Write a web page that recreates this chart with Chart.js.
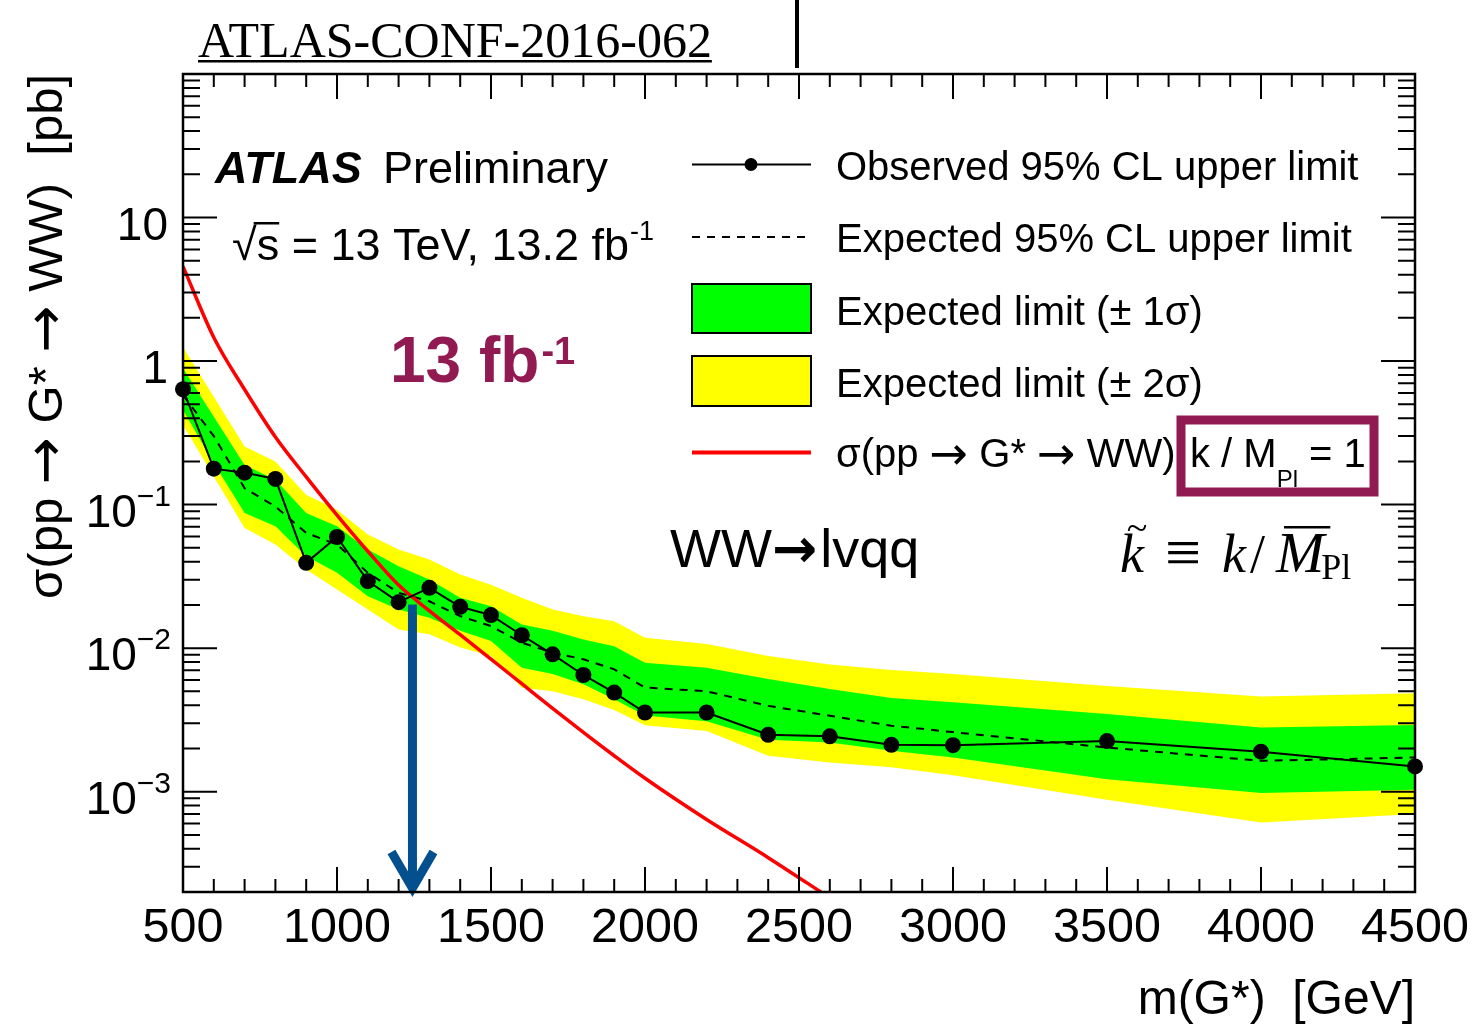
<!DOCTYPE html>
<html>
<head>
<meta charset="utf-8">
<script src="https://cdn.jsdelivr.net/npm/chart.js@4.4.1/dist/chart.umd.min.js"></script>
<style>
  html, body { margin: 0; padding: 0; background: #fff; }
  #wrap { width: 1475px; height: 1025px; }
</style>
</head>
<body>
<div id="wrap"><canvas id="c" width="1475" height="1025"></canvas></div>
<script>
// ---- Graviton -> WW -> lvqq limits, 13.2 fb^-1 ----
const masses = [500, 600, 700, 800, 900, 1000, 1100, 1200, 1300, 1400, 1500, 1600,
                1700, 1800, 1900, 2000, 2200, 2400, 2600, 2800, 3000, 3500, 4000, 4500];

const observedLimit = [0.636, 0.178, 0.167, 0.151, 0.0393, 0.0595, 0.0293, 0.0209, 0.0263, 0.0194, 0.0170, 0.0123,
                       0.00905, 0.0065, 0.0049, 0.00356, 0.00356, 0.00249, 0.00243, 0.00212, 0.00211, 0.00225, 0.0019, 0.0015];

const expectedLimit = [0.58, 0.30, 0.130, 0.097, 0.0635, 0.0527, 0.0335, 0.0243, 0.0212, 0.0167, 0.01425, 0.0109,
                       0.0093, 0.00836, 0.00712, 0.00531, 0.00501, 0.00396, 0.00338, 0.00288, 0.0026, 0.00203, 0.00164, 0.00173];

const band1Up = [0.89, 0.41, 0.189, 0.149, 0.0874, 0.0706, 0.0486, 0.0372, 0.0301, 0.0224, 0.0196, 0.0146,
                 0.0132, 0.0115, 0.0103, 0.0079, 0.0073, 0.0061, 0.0052, 0.0045, 0.0042, 0.00347, 0.0028, 0.00291];
const band1Down = [0.456, 0.194, 0.0874, 0.0706, 0.0436, 0.0335, 0.023, 0.0186, 0.0163, 0.0132, 0.0112, 0.0073,
                   0.0066, 0.0056, 0.0044, 0.0034, 0.0031, 0.0023, 0.0022, 0.00193, 0.00173, 0.00122, 0.00098, 0.00103];
const band2Up = [1.25, 0.565, 0.254, 0.1996, 0.117, 0.0922, 0.0618, 0.0486, 0.0414, 0.0326, 0.0277, 0.0224,
                 0.0186, 0.0167, 0.0154, 0.0118, 0.0107, 0.0088, 0.0077, 0.00705, 0.0066, 0.00545, 0.0046, 0.00485];
const band2Down = [0.359, 0.157, 0.0688, 0.0527, 0.0353, 0.0256, 0.0186, 0.0135, 0.0125, 0.0101, 0.0088, 0.0053,
                   0.0050, 0.0044, 0.0037, 0.0029, 0.00265, 0.00178, 0.0016, 0.00148, 0.0013, 0.00088, 0.00061, 0.0007];

// Bulk RS graviton cross section, k/M_Pl = 1
const theoryMass = [500, 600, 700, 800, 900, 1000, 1100, 1200, 1300, 1400, 1500, 1600, 1700, 1800, 1900, 2000, 2200, 2400, 2600];
const theoryXsec = [4.57, 1.46, 0.634, 0.296, 0.156, 0.0845, 0.0473, 0.0275, 0.0182, 0.0124, 0.00838, 0.00565,
                    0.00381, 0.00259, 0.00178, 0.00124, 0.00064, 0.000347, 0.000182];

// Axis ticks
const xTickValues = [500, 1000, 1500, 2000, 2500, 3000, 3500, 4000, 4500];
const xTickLabels = ['500', '1000', '1500', '2000', '2500', '3000', '3500', '4000', '4500'];
const xMinorStep = 100;
const yTickValues = [10, 1, 0.1, 0.01, 0.001];
const yTickBase = ['10', '1', '10', '10', '10'];
const yTickExp = ['', '', '\u22121', '\u22122', '\u22123'];

// Excluded mass marker
const limitMass = 1245;
const limitArrowTop = 0.0201;

const SANS = '"Liberation Sans", Arial, Helvetica, sans-serif';
const SERIF = '"Liberation Serif", "Times New Roman", serif';
const ARROWF = '"DejaVu Sans", sans-serif';
const MAROON = '#921a52';
const pts = (xs, ys) => xs.map((x, i) => ({ x, y: ys[i] }));

function fontOf(size, o) {
  return `${o.style || 'normal'} ${o.weight || 'normal'} ${size}px ${o.family || SANS}`;
}

function text(ctx, s, x, y, size, o = {}) {
  ctx.save();
  ctx.font = fontOf(size, o);
  ctx.fillStyle = o.color || '#000';
  ctx.textAlign = o.align || 'left';
  ctx.textBaseline = 'alphabetic';
  ctx.fillText(s, x, y);
  const w = ctx.measureText(s).width;
  ctx.restore();
  return w;
}

// Text with arrows rendered in a font whose arrow glyph is full width
function arrowText(ctx, s, x, y, size, align = 'left') {
  const parts = s.split(/(\u2192)/).filter(p => p.length);
  const styleOf = p => (p === '\u2192' ? { family: ARROWF } : {});
  const sizeOf = p => (p === '\u2192' ? size * 1.15 : size);
  ctx.save();
  const widths = parts.map(p => {
    ctx.font = fontOf(sizeOf(p), styleOf(p));
    return ctx.measureText(p).width;
  });
  ctx.restore();
  const total = widths.reduce((a, b) => a + b, 0);
  let cx = align === 'right' ? x - total : x;
  parts.forEach((p, i) => {
    text(ctx, p, cx, p === '\u2192' ? y + size * 0.04 : y, sizeOf(p), styleOf(p));
    cx += widths[i];
  });
  return total;
}

const framePlugin = {
  id: 'frame',
  afterDatasetsDraw(chart) {
    const ctx = chart.ctx;
    const { left, right, top, bottom } = chart.chartArea;
    const xs = chart.scales.x, ys = chart.scales.y;

    // limit arrow
    const ax = xs.getPixelForValue(limitMass);
    const ay = ys.getPixelForValue(limitArrowTop);
    ctx.save();
    ctx.strokeStyle = '#04508f';
    ctx.lineWidth = 9;
    ctx.lineCap = 'butt';
    ctx.beginPath();
    ctx.moveTo(ax, ay);
    ctx.lineTo(ax, bottom - 6);
    ctx.stroke();
    ctx.beginPath();
    ctx.moveTo(ax - 21, bottom - 40);
    ctx.lineTo(ax, bottom - 4);
    ctx.lineTo(ax + 21, bottom - 40);
    ctx.lineJoin = 'miter';
    ctx.stroke();
    ctx.restore();

    // ticks (inside, all four sides)
    ctx.save();
    ctx.strokeStyle = '#000';
    ctx.lineWidth = 2;
    ctx.beginPath();
    for (let v = xs.min; v <= xs.max + 1e-6; v += xMinorStep) {
      const px = xs.getPixelForValue(v);
      const len = xTickValues.includes(v) ? 25 : 13;
      ctx.moveTo(px, bottom); ctx.lineTo(px, bottom - len);
      ctx.moveTo(px, top); ctx.lineTo(px, top + len);
    }
    for (let e = -4; e <= 2; e++) {
      for (let k = 1; k <= 9; k++) {
        const v = k * Math.pow(10, e);
        if (v < ys.min * 0.999 || v > ys.max * 1.001) continue;
        const py = ys.getPixelForValue(v);
        const len = k === 1 ? 34 : 17;
        ctx.moveTo(left, py); ctx.lineTo(left + len, py);
        ctx.moveTo(right, py); ctx.lineTo(right - len, py);
      }
    }
    ctx.stroke();
    ctx.lineWidth = 2.5;
    ctx.strokeRect(left, top, right - left, bottom - top);
    ctx.restore();
  },
  afterDraw(chart) {
    const ctx = chart.ctx;
    const { left, right, top, bottom } = chart.chartArea;
    const xs = chart.scales.x, ys = chart.scales.y;

    // tick labels
    xTickValues.forEach((v, i) => {
      text(ctx, xTickLabels[i], xs.getPixelForValue(v), 942, 48.5, { align: 'center' });
    });
    const yRight = 171;
    yTickValues.forEach((v, i) => {
      const py = ys.getPixelForValue(v);
      if (yTickExp[i]) {
        const we = text(ctx, yTickExp[i], yRight, py + 1, 30, { align: 'right' });
        text(ctx, yTickBase[i], yRight - we, py + 22, 46, { align: 'right' });
      } else {
        text(ctx, yTickBase[i], yRight - 3, py + 22, 46, { align: 'right' });
      }
    });

    // axis titles
    text(ctx, 'm(G*)  [GeV]', right, 1014, 48, { align: 'right' });
    ctx.save();
    ctx.translate(62, top);
    ctx.rotate(-Math.PI / 2);
    arrowText(ctx, '\u03c3(pp \u2192 G* \u2192 WW)  [pb]', 0, 0, 49, 'right');
    ctx.restore();

    // header
    const wh = text(ctx, 'ATLAS-CONF-2016-062', 198, 57, 50, { family: SERIF });
    ctx.fillStyle = '#000';
    ctx.fillRect(198, 60, wh, 2.5);
    ctx.fillRect(795, 0, 4, 68);

    // ATLAS label
    text(ctx, 'ATLAS', 215, 183, 45, { weight: 'bold', style: 'italic' });
    text(ctx, 'Preliminary', 383, 183, 45);
    let x = 232;
    const wr = text(ctx, '\u221a', x, 260, 45);
    const ws = text(ctx, 's', x + wr, 260, 45);
    ctx.fillRect(x + wr - 3, 222, ws + 3, 2.5);
    x += wr + ws;
    x += text(ctx, ' = 13 TeV, 13.2 fb', x, 260, 45);
    text(ctx, '-1', x + 1, 240, 27);

    // luminosity callout
    const w13 = text(ctx, '13 fb', 390, 382, 64, { weight: 'bold', color: MAROON });
    text(ctx, '-1', 390 + w13 + 2, 364, 38, { weight: 'bold', color: MAROON });

    // channel
    let cx = 670;
    cx += text(ctx, 'WW', cx, 567, 54);
    cx += text(ctx, '\u2192', cx, 567, 54, { weight: 'bold', family: ARROWF });
    text(ctx, 'lvqq', cx + 3, 567, 54);

    // coupling definition
    const kb = 572, kf = 54;
    text(ctx, 'k', 1120, kb, kf, { family: SERIF, style: 'italic' });
    text(ctx, '~', 1137, kb - 32, 38, { family: SERIF, align: 'center' });
    text(ctx, '\u2261', 1183, kb + 2, 64, { family: SERIF, align: 'center' });
    text(ctx, 'k', 1222, kb, kf, { family: SERIF, style: 'italic' });
    text(ctx, '/', 1250, kb, kf, { family: SERIF });
    const wm = text(ctx, 'M', 1276, kb, kf + 4, { family: SERIF, style: 'italic' });
    ctx.fillStyle = '#000';
    ctx.fillRect(1284, 526, wm - 2, 2.5);
    text(ctx, 'Pl', 1276 + wm - 3, kb + 7, 36, { family: SERIF });

    // legend
    const ds = chart.data.datasets;
    const lx0 = 692, lx1 = 811, tx = 836;
    const rows = [166, 238, 311, 383, 453];
    ctx.save();
    // observed
    ctx.strokeStyle = ds[6].borderColor; ctx.lineWidth = 2;
    ctx.beginPath(); ctx.moveTo(lx0, rows[0] - 1.5); ctx.lineTo(lx1, rows[0] - 1.5); ctx.stroke();
    ctx.fillStyle = ds[6].pointBackgroundColor;
    ctx.beginPath(); ctx.arc(751, rows[0] - 1.5, 6.5, 0, Math.PI * 2); ctx.fill();
    // expected
    ctx.setLineDash([8, 7]);
    ctx.beginPath(); ctx.moveTo(lx0, rows[1] - 1); ctx.lineTo(lx1, rows[1] - 1); ctx.stroke();
    ctx.setLineDash([]);
    // bands
    ctx.fillStyle = ds[2].backgroundColor;
    ctx.fillRect(lx0, 284, lx1 - lx0, 49);
    ctx.strokeRect(lx0, 284, lx1 - lx0, 49);
    ctx.fillStyle = ds[0].backgroundColor;
    ctx.fillRect(lx0, 356, lx1 - lx0, 50);
    ctx.strokeRect(lx0, 356, lx1 - lx0, 50);
    // theory
    ctx.strokeStyle = ds[5].borderColor; ctx.lineWidth = 4;
    ctx.beginPath(); ctx.moveTo(lx0, rows[4] - 0.5); ctx.lineTo(lx1, rows[4] - 0.5); ctx.stroke();
    ctx.restore();

    const lf = 40;
    text(ctx, 'Observed 95% CL upper limit', tx, rows[0] + 14, lf);
    text(ctx, 'Expected 95% CL upper limit', tx, rows[1] + 14, lf);
    text(ctx, 'Expected limit (\u00b1 1\u03c3)', tx, rows[2] + 14, lf);
    text(ctx, 'Expected limit (\u00b1 2\u03c3)', tx, rows[3] + 14, lf);
    arrowText(ctx, '\u03c3(pp \u2192 G* \u2192 WW)', tx, rows[4] + 14, lf);
    let lx = 1190;
    lx += text(ctx, 'k / M', lx, rows[4] + 14, lf);
    const wpl = text(ctx, 'Pl', lx, rows[4] + 34, 24);
    text(ctx, ' = 1', lx + wpl, rows[4] + 14, lf);

    // highlight box around the coupling value
    ctx.save();
    ctx.strokeStyle = MAROON;
    ctx.lineWidth = 9;
    ctx.strokeRect(1181, 420, 193, 72);
    ctx.restore();
  }
};

new Chart(document.getElementById('c'), {
  type: 'line',
  data: {
    datasets: [
      { label: 'band2Up', data: pts(masses, band2Up), fill: 1, backgroundColor: '#ffff00',
        borderColor: 'rgba(0,0,0,0)', borderWidth: 0, pointRadius: 0, order: 10 },
      { label: 'band2Down', data: pts(masses, band2Down), fill: false,
        borderColor: 'rgba(0,0,0,0)', borderWidth: 0, pointRadius: 0, order: 11 },
      { label: 'band1Up', data: pts(masses, band1Up), fill: 3, backgroundColor: '#00ff00',
        borderColor: 'rgba(0,0,0,0)', borderWidth: 0, pointRadius: 0, order: 8 },
      { label: 'band1Down', data: pts(masses, band1Down), fill: false,
        borderColor: 'rgba(0,0,0,0)', borderWidth: 0, pointRadius: 0, order: 9 },
      { label: 'Expected', data: pts(masses, expectedLimit), fill: false, borderColor: '#000',
        borderWidth: 2, borderDash: [8, 7], pointRadius: 0, order: 5 },
      { label: 'Theory', data: pts(theoryMass, theoryXsec), fill: false, borderColor: '#ff0000',
        borderWidth: 3.5, pointRadius: 0, cubicInterpolationMode: 'monotone', clip: 0, order: 3 },
      { label: 'Observed', data: pts(masses, observedLimit), fill: false, borderColor: '#000',
        borderWidth: 2, pointRadius: 8, pointBackgroundColor: '#000', pointBorderWidth: 0,
        clip: false, order: 1 }
    ]
  },
  options: {
    responsive: false,
    animation: false,
    devicePixelRatio: 1,
    layout: { padding: { left: 183, top: 74, right: 60, bottom: 133 } },
    plugins: { legend: { display: false }, tooltip: { enabled: false } },
    elements: { line: { tension: 0 } },
    scales: {
      x: { type: 'linear', min: 500, max: 4500, display: false },
      y: { type: 'logarithmic', min: 2e-4, max: 100, display: false }
    }
  },
  plugins: [framePlugin]
});
</script>
</body>
</html>
